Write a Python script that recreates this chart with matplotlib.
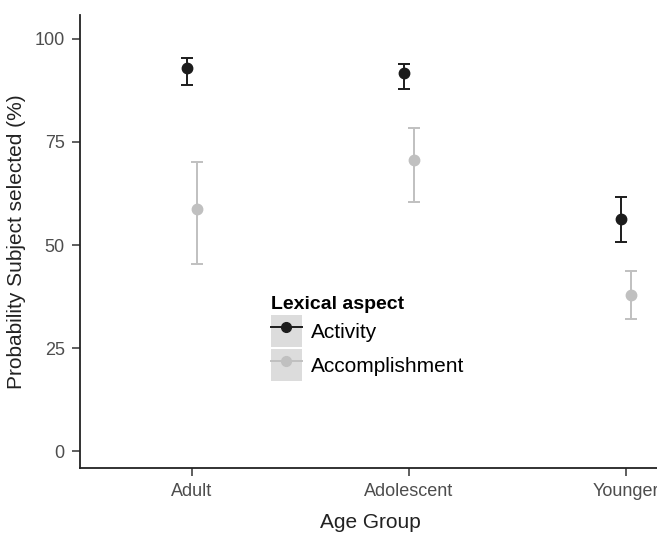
import numpy as np
import matplotlib
matplotlib.use("Agg")
import matplotlib.pyplot as plt
from matplotlib.patches import Rectangle
from matplotlib.lines import Line2D

plt.rcParams['font.family'] = ['Liberation Sans', 'DejaVu Sans']

groups = ['Adult', 'Adolescent', 'Younger']
activity_mean = [92.9, 91.7, 56.2]
activity_lo = [88.8, 87.8, 50.7]
activity_hi = [95.3, 93.9, 61.6]
accomp_mean = [58.7, 70.6, 37.9]
accomp_lo = [45.3, 60.4, 32.0]
accomp_hi = [70.2, 78.5, 43.7]
series_names = ['Activity', 'Accomplishment']
series_colors = ['#1c1c1c', '#c0c0c0']

fig = plt.figure(figsize=(6.57, 5.36), dpi=100)
ax = fig.add_axes([80/657, 68/536, 580/657, 453/536])

x = np.arange(len(groups))
dodge = 0.025
series = [(activity_mean, activity_lo, activity_hi), (accomp_mean, accomp_lo, accomp_hi)]
for k, (m, lo, hi) in enumerate(series):
    m = np.array(m); lo = np.array(lo); hi = np.array(hi)
    off = -dodge if k == 0 else dodge
    ax.errorbar(x + off, m, yerr=[m - lo, hi - m], fmt='o', color=series_colors[k],
                ecolor=series_colors[k], elinewidth=1.4, capsize=4, capthick=1.4,
                markersize=7.5)

ax.set_xlim(-0.516, 2.157)
ax.set_ylim(-4.1, 105.8)
ax.set_xticks(x)
ax.set_xticklabels(groups)
ax.set_yticks([0, 25, 50, 75, 100])
ax.tick_params(axis='both', colors='#333333', labelcolor='#4d4d4d', labelsize=13,
               length=6, width=1.1, pad=5)

for s in ['top', 'right']:
    ax.spines[s].set_visible(False)
for s in ['left', 'bottom']:
    ax.spines[s].set_color('#222222')
    ax.spines[s].set_linewidth(1.3)

ax.set_xlabel('Age Group', fontsize=15, color='#222222', labelpad=9)
ax.set_ylabel('Probability Subject selected (%)', fontsize=15, color='#222222', labelpad=6)

handles = []
for k in range(2):
    bg = Rectangle((0, 0), 1, 1, facecolor='#dcdcdc', edgecolor='none')
    ln = Line2D([], [], color=series_colors[k], marker='o', markersize=7, linewidth=1.4)
    handles.append((bg, ln))
leg = ax.legend(handles, series_names, loc='upper left', bbox_to_anchor=(0.312, 0.403),
                frameon=False, fontsize=15, title='Lexical aspect',
                title_fontproperties={'weight': 'bold', 'size': 14},
                handlelength=1.45, handleheight=1.95, handletextpad=0.45,
                labelspacing=0.12, borderpad=0, alignment='left')

fig.savefig('out.png', dpi=100)
